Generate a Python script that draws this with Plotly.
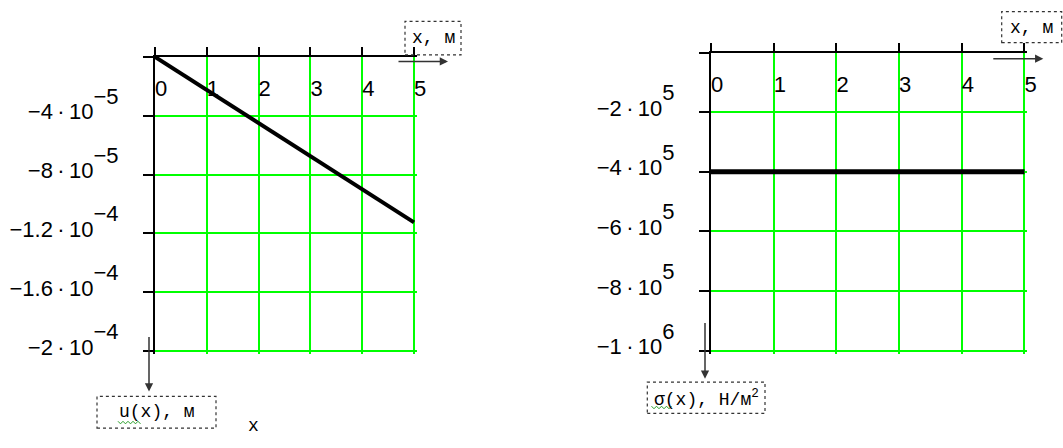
import plotly.graph_objects as go

W, H = 1063, 448

# ---- data -------------------------------------------------------------
x_m = [0, 1, 2, 3, 4, 5]
u_x = [0.0, -2.25e-5, -4.5e-5, -6.75e-5, -9.0e-5, -1.125e-4]          # displacement, m
sigma_x = [-4.0e5, -4.0e5, -4.0e5, -4.0e5, -4.0e5, -4.0e5]             # stress, N/m^2

x_tickvals = [0, 1, 2, 3, 4, 5]
x_ticktext = ["0", "1", "2", "3", "4", "5"]

u_tickvals = [-2e-4, -1.6e-4, -1.2e-4, -8e-5, -4e-5, 0]
u_mant = ["2", "1.6", "1.2", "8", "4"]
u_exp = ["−4", "−4", "−4", "−5", "−5"]

s_tickvals = [-1e6, -8e5, -6e5, -4e5, -2e5, 0]
s_mant = ["1", "8", "6", "4", "2"]
s_exp = ["6", "5", "5", "5", "5"]

TICK_FONT = dict(family="Liberation Sans, Arial, sans-serif", size=22, color="black")
TEXT_FONT = dict(family="Liberation Mono, Courier New, monospace", size=18, color="black")
GRID = "#00ff00"


def sci(m, e):
    return ("−" + m + "\u2009·\u200910<sup><sup><span style='font-size:22px'>"
            + e + "</span></sup></sup>")


u_ticktext = [sci(m, e) for m, e in zip(u_mant, u_exp)] + [""]
s_ticktext = [sci(m, e) for m, e in zip(s_mant, s_exp)] + [""]


def px(x):
    return x / W


def py(y):
    return 1 - y / H


fig = go.Figure()
fig.add_trace(go.Scatter(x=x_m, y=u_x, mode="lines", xaxis="x", yaxis="y",
                         line=dict(color="black", width=4), showlegend=False,
                         hoverinfo="skip"))
fig.add_trace(go.Scatter(x=x_m, y=sigma_x, mode="lines", xaxis="x2", yaxis="y2",
                         line=dict(color="black", width=5), showlegend=False,
                         hoverinfo="skip"))
# empty traces that bring the label-carrying axes into existence
for xa, ya in (("x5", "y5"), ("x6", "y6")):
    fig.add_trace(go.Scatter(x=[None], y=[None], xaxis=xa, yaxis=ya,
                             mode="lines", showlegend=False, hoverinfo="skip"))


def x_axis(domain, rng, anchor):
    return dict(domain=domain, range=rng, anchor=anchor, side="top",
                tickvals=x_tickvals, ticks="outside",
                ticklen=8, tickwidth=1.5, tickcolor="black",
                showline=True, linecolor="black", linewidth=2,
                showgrid=True, gridcolor=GRID, gridwidth=2, zeroline=False,
                showticklabels=False, fixedrange=True)


def x_labels(x0_px, unit_px, span, anchor):
    # axis that only carries the x tick labels, hung below the top line
    return dict(domain=[px(x0_px), px(x0_px + unit_px * span)], range=[0, span],
                anchor=anchor, side="bottom",
                tickvals=x_tickvals, ticktext=x_ticktext, ticks="",
                showline=False, showgrid=False, zeroline=False,
                ticklabelposition="outside right", ticklabelstandoff=16,
                tickfont=TICK_FONT, fixedrange=True)


def y_holder(top_px, anchor):
    return dict(domain=[py(top_px), py(top_px - 6)], range=[0, 1], anchor=anchor,
                visible=False, fixedrange=True)


def y_axis(domain, rng, anchor, vals, text):
    return dict(domain=domain, range=rng, anchor=anchor, side="left",
                tickvals=vals, ticktext=text, ticks="outside",
                ticklen=10, tickwidth=1.5, tickcolor="black",
                showline=True, linecolor="black", linewidth=2,
                showgrid=True, gridcolor=GRID, gridwidth=2, zeroline=False,
                ticklabelstandoff=20, ticklabelshift=-4,
                tickfont=TICK_FONT, fixedrange=True)


def x_inner(over, rng, anchor):
    return dict(overlaying=over, range=rng, anchor=anchor, side="top",
                tickvals=x_tickvals, ticks="inside", ticklen=5, tickwidth=1.5,
                tickcolor="black", showticklabels=False, showgrid=False,
                showline=False, zeroline=False, fixedrange=True)


def y_inner(over, rng, anchor, vals):
    return dict(overlaying=over, range=rng, anchor=anchor, side="left",
                tickvals=vals, ticks="inside", ticklen=7, tickwidth=1.5,
                tickcolor="black", showticklabels=False, showgrid=False,
                showline=False, zeroline=False, fixedrange=True)


xr1, yr1 = [0, 5.05], [-2.02e-4, 0]
xr2, yr2 = [0, 5.04], [-1.01e6, 0]

fig.update_layout(
    width=W, height=H,
    margin=dict(l=0, r=0, t=0, b=0),
    paper_bgcolor="white", plot_bgcolor="rgba(0,0,0,0)",
    showlegend=False,
    xaxis=x_axis([px(155), px(416.6)], xr1, "y"),
    yaxis=y_axis([py(358.7), py(57.7)], yr1, "x", u_tickvals, u_ticktext),
    xaxis2=x_axis([px(711), px(1027)], xr2, "y2"),
    yaxis2=y_axis([py(358.3), py(53.3)], yr2, "x2", s_tickvals, s_ticktext),
    xaxis3=x_inner("x", xr1, "y"),
    yaxis3=y_inner("y", yr1, "x", u_tickvals),
    xaxis4=x_inner("x2", xr2, "y2"),
    yaxis4=y_inner("y2", yr2, "x2", s_tickvals),
    xaxis5=x_labels(155, 51.8, 5.6, "y5"),
    yaxis5=y_holder(57.7, "x5"),
    xaxis6=x_labels(711, 62.7, 5.5, "y6"),
    yaxis6=y_holder(53.3, "x6"),
)

shapes = []
# green top grid line just above the black axis line
for xa, ya in (("x", "y"), ("x2", "y2")):
    shapes.append(dict(type="line", xref=xa, yref=ya, x0=0, x1=5,
                       ysizemode="pixel", yanchor=0, y0=2, y1=2,
                       line=dict(color=GRID, width=2), layer="above"))

# dotted label frames
frames = [(405, 21.7, 461, 55.7), (1001.7, 11.7, 1061.7, 43.3),
          (97, 401.7, 216, 434), (647.3, 387.3, 765, 419)]
for x0, y0, x1, y1 in frames:
    shapes.append(dict(type="rect", xref="paper", yref="paper",
                       x0=px(x0), x1=px(x1), y0=py(y1), y1=py(y0),
                       line=dict(color="#333333", width=1.2, dash="dot")))


# spell-check squiggles under the function names
def squiggle(xa, xb, y):
    pts = []
    x, up = xa, True
    while x <= xb:
        pts.append((px(x), py(y - 1.3 if up else y + 1.3)))
        x += 2.5
        up = not up
    return "M " + " L ".join(f"{a:.5f},{b:.5f}" for a, b in pts)


for xa, xb, yy in ((118, 142, 428.3), (651.5, 673, 413)):
    shapes.append(dict(type="path", xref="paper", yref="paper",
                       path=squiggle(xa, xb, yy),
                       line=dict(color="#2aa02a", width=1)))
fig.update_layout(shapes=shapes)

ann = []
labels = [("x, м", 433, 39), ("x, м", 1031.7, 28.5),
          ("u(x), м", 156.5, 418), ("σ(x), Н/м<sup>2</sup>", 706, 403.5),
          ("x", 253.5, 432)]
for text, x, y in labels:
    ann.append(dict(text=text, x=px(x), y=py(y), xref="paper", yref="paper",
                    showarrow=False, xanchor="center", yanchor="middle",
                    font=TEXT_FONT))

# axis direction arrows
arrows = [(448, 62.3, -51, 0), (1043.3, 59.5, -51.5, 0),
          (149, 396.7, 0, -56), (705, 384, 0, -57.3)]
for x, y, ax, ay in arrows:
    ann.append(dict(text="", x=px(x), y=py(y), xref="paper", yref="paper",
                    ax=ax, ay=ay, axref="pixel", ayref="pixel",
                    showarrow=True, arrowhead=2, arrowsize=1.1,
                    arrowwidth=1.5, arrowcolor="#333333"))
fig.update_layout(annotations=ann)

fig.write_html("out.html")
